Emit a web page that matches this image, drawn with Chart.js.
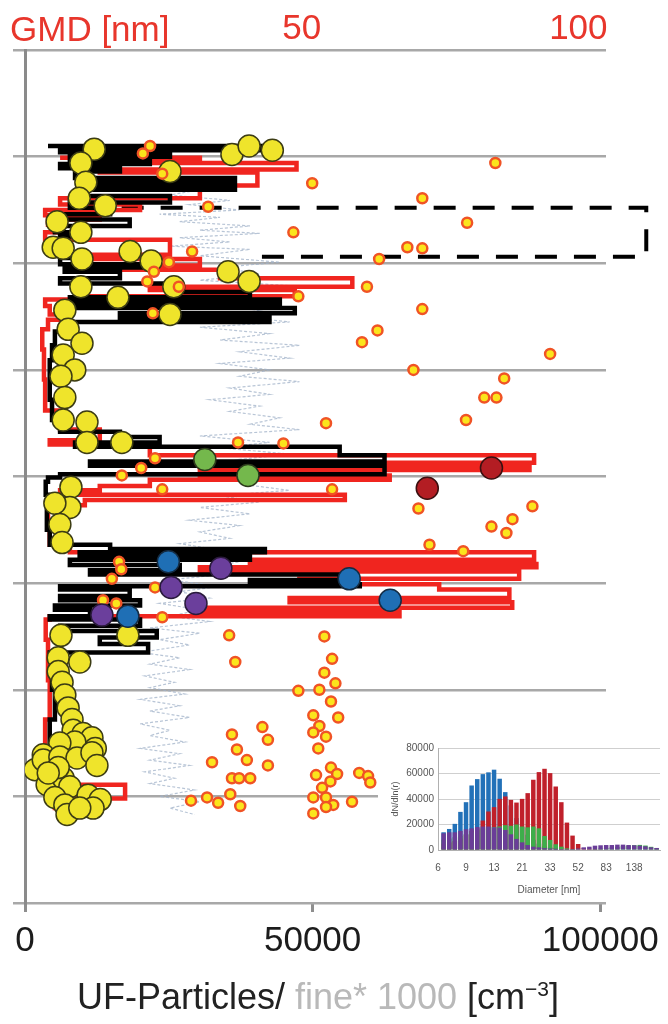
<!DOCTYPE html>
<html>
<head>
<meta charset="utf-8">
<script src="https://cdn.jsdelivr.net/npm/chart.js@4.4.1/dist/chart.umd.min.js"></script>
<style>
  body { margin: 0; background: #fff; }
  #wrap { position: relative; width: 668px; height: 1024px; overflow: hidden; font-family: "Liberation Sans", Arial, sans-serif; }
  #main { position: absolute; left: 0; top: 0; }
  #inset { position: absolute; left: 378px; top: 738px; }
  .gmd { position: absolute; left: 10px; top: 9px; font-size: 35px; color: #e8362c; }
  .xtitle { position: absolute; left: 0; width: 636px; top: 976px; text-align: center; font-size: 36px; color: #222; }
  .xtitle .fine { color: #b9b9b9; }
  .xtitle sup { font-size: 21px; }
</style>
</head>
<body>
<div id="wrap">
  <canvas id="main" width="668" height="1024"></canvas>
  <canvas id="inset" width="290" height="160"></canvas>
  <div class="gmd">GMD [nm]</div>
  <div class="xtitle">UF-Particles/ <span class="fine">fine* 1000</span> [cm<sup>−3</sup>]</div>
</div>
<script>
// tick labels
const ufTicks = [0, 50000, 100000];
const gmdTicks = [50, 100];
const profileTicks = [0, 1, 2, 3, 4, 5, 6, 7, 8];

// UF particle profiles [cm-3, profile]
const ufBlack = [
  [4000, 7.10], [28600, 7.10], [44300, 7.06], [6100, 7.04], [25200, 7.00], [7800, 6.97], [21700, 6.93],
  [6100, 6.89], [16500, 6.86], [8700, 6.80], [36500, 6.76], [11300, 6.73], [36500, 6.69], [9500, 6.63],
  [25200, 6.57], [7800, 6.52], [14800, 6.46], [6100, 6.41], [18200, 6.35], [5200, 6.29], [9500, 6.25],
  [6100, 6.18], [5200, 6.11], [7800, 6.05], [6100, 5.99], [21700, 5.96], [6900, 5.92], [16500, 5.86],
  [6100, 5.81], [26900, 5.73], [39100, 5.68], [7800, 5.66], [44300, 5.62], [6100, 5.58], [46900, 5.53],
  [16500, 5.49], [42500, 5.45], [7800, 5.41], [6100, 5.36], [5200, 5.23], [4700, 5.09], [4300, 4.91],
  [4300, 4.72], [4700, 4.53], [6100, 4.42], [16500, 4.37], [23400, 4.32], [8700, 4.28], [54700, 4.20],
  [62500, 4.14], [11300, 4.10], [62500, 4.02], [6100, 3.99], [4000, 3.95], [3600, 3.83], [4000, 3.68],
  [3800, 3.50], [4300, 3.36], [14800, 3.32], [41700, 3.29], [9500, 3.26], [39100, 3.22], [7800, 3.17],
  [26900, 3.12], [11300, 3.08], [54700, 3.03], [39100, 2.99], [58200, 2.97], [6100, 2.94], [18200, 2.88],
  [6100, 2.84], [20000, 2.79], [5200, 2.75], [11300, 2.69], [4300, 2.66], [20000, 2.60], [6100, 2.55],
  [22900, 2.49], [13000, 2.43], [21400, 2.35], [4300, 2.32], [5200, 2.23], [4700, 2.00], [5200, 1.72],
  [4300, 1.44], [3800, 1.15], [5200, 0.97], [6100, 0.87]
];
const ufRed = [
  [6100, 6.99], [30400, 6.97], [9500, 6.94], [47200, 6.88], [13000, 6.85], [40400, 6.73], [14800, 6.69],
  [30400, 6.61], [6100, 6.55], [20000, 6.50], [3500, 6.45], [13000, 6.41], [4000, 6.36], [6100, 6.29],
  [3500, 6.22], [25200, 6.08], [11300, 6.04], [30400, 5.98], [14800, 5.94], [33900, 5.86], [56900, 5.78],
  [21700, 5.75], [46900, 5.69], [9500, 5.66], [3500, 5.60], [4300, 5.52], [7800, 5.47], [4000, 5.38],
  [3000, 5.19], [3300, 4.91], [3500, 4.62], [6100, 4.44], [13000, 4.34], [4300, 4.30], [21700, 4.20],
  [88500, 4.13], [47700, 4.09], [87700, 4.06], [30400, 4.01], [63400, 3.97], [21700, 3.91], [13000, 3.87],
  [6100, 3.83], [55600, 3.78], [10400, 3.73], [4300, 3.68], [4000, 3.50], [4300, 3.36], [7800, 3.29],
  [88500, 3.22], [39100, 3.18], [88900, 3.15], [30400, 3.11], [85900, 3.04], [47700, 2.99], [72000, 2.94],
  [84200, 2.86], [46000, 2.82], [84700, 2.77], [30400, 2.73], [65100, 2.69], [4300, 2.66], [3600, 2.47],
  [4000, 2.09], [4300, 1.72], [3500, 1.34], [4300, 1.11], [17400, 0.98], [4300, 0.95], [5200, 0.87]
];
// fine particles * 1000
const fineGrey = [
  [21700, 6.73], [30400, 6.69], [25200, 6.64], [35600, 6.59], [28600, 6.55], [37300, 6.50], [23400, 6.46],
  [33900, 6.43], [26900, 6.39], [39100, 6.35], [30400, 6.31], [40800, 6.28], [26900, 6.24], [35600, 6.20],
  [25200, 6.16], [39100, 6.13], [30400, 6.07], [44300, 6.01], [33900, 5.96], [40800, 5.90], [30400, 5.84],
  [46000, 5.79], [35600, 5.73], [42500, 5.68], [32100, 5.62], [40800, 5.56], [35600, 5.51], [46000, 5.45],
  [30400, 5.40], [42500, 5.34], [33900, 5.28], [47700, 5.23], [37300, 5.17], [46000, 5.11], [33900, 5.06],
  [42500, 5.00], [37300, 4.94], [47700, 4.89], [35600, 4.83], [42500, 4.77], [32100, 4.72], [40800, 4.66],
  [35600, 4.61], [44300, 4.55], [39100, 4.49], [47700, 4.44], [30400, 4.38], [42500, 4.32], [33900, 4.27],
  [46000, 4.21], [37300, 4.16], [47700, 4.10], [35600, 4.04], [44300, 3.99], [37300, 3.93], [46000, 3.87],
  [33900, 3.82], [40800, 3.76], [30400, 3.71], [39100, 3.65], [28600, 3.59], [37300, 3.54], [30400, 3.48],
  [35600, 3.42], [26900, 3.37], [33900, 3.31], [28600, 3.26], [37300, 3.20], [30400, 3.14], [35600, 3.09],
  [25200, 3.03], [33900, 2.97], [26900, 2.92], [32100, 2.86], [23400, 2.81], [30400, 2.75], [25200, 2.69],
  [32100, 2.64], [21700, 2.58], [30400, 2.53], [23400, 2.47], [28600, 2.42], [20000, 2.35], [26900, 2.30],
  [21700, 2.24], [28600, 2.19], [20800, 2.13], [26000, 2.07], [21700, 2.02], [27800, 1.96], [20000, 1.91],
  [26900, 1.85], [21700, 1.80], [28600, 1.74], [20000, 1.68], [25200, 1.62], [21700, 1.57], [27800, 1.51],
  [20000, 1.45], [26900, 1.40], [21700, 1.34], [28600, 1.29], [20800, 1.23], [26000, 1.17], [21700, 1.12],
  [29500, 1.06], [23400, 1.00], [30400, 0.95], [25200, 0.89], [29500, 0.83]
];
// marked layer (dashed box)
const boxOutline = [[16800, 6.52], [108000, 6.52], [108000, 6.06], [39100, 6.06]];

// GMD [nm, profile]
const gmdLarge = [
  [12.5, 7.07], [10.1, 6.94], [11.0, 6.76], [9.8, 6.61], [14.5, 6.54], [5.8, 6.39], [10.1, 6.29], [5.1, 6.15],
  [6.9, 6.14], [10.3, 6.04], [19.0, 6.11], [22.8, 6.02], [10.1, 5.78], [16.8, 5.68], [26.2, 6.86], [37.4, 7.02],
  [40.5, 7.10], [44.7, 7.06], [36.7, 5.92], [40.5, 5.83], [26.9, 5.78], [26.2, 5.52], [7.2, 5.56], [7.8, 5.38],
  [10.3, 5.25], [6.9, 5.14], [9.0, 5.00], [6.5, 4.94], [7.2, 4.74], [6.9, 4.53], [11.2, 4.51], [11.2, 4.32],
  [17.5, 4.32], [8.3, 3.90], [8.1, 3.71], [5.4, 3.75], [6.3, 3.55], [6.7, 3.38], [6.5, 2.51], [18.6, 2.51],
  [6.0, 2.30], [9.9, 2.26], [6.0, 2.17], [6.7, 2.07], [7.2, 1.95], [7.8, 1.83], [8.5, 1.72], [8.7, 1.62],
  [10.5, 1.59], [12.1, 1.55], [12.7, 1.45], [9.0, 1.51], [6.3, 1.50], [3.3, 1.39], [1.8, 1.25], [3.3, 1.34],
  [6.3, 1.37], [9.4, 1.36], [12.1, 1.41], [13.0, 1.29], [4.0, 1.11], [6.9, 1.17], [8.1, 1.09], [5.4, 0.99],
  [7.2, 0.92], [7.6, 0.83], [11.4, 1.01], [13.6, 0.97], [12.3, 0.89], [9.9, 0.89], [6.0, 1.27], [4.2, 1.22]
];
const gmdSmall = [
  [22.6, 7.10], [21.3, 7.03], [24.8, 6.84], [33.1, 6.53], [30.2, 6.11], [26.0, 6.01], [23.3, 5.92], [22.1, 5.83],
  [27.8, 5.78], [23.1, 5.53], [51.9, 6.75], [48.5, 6.29], [49.4, 5.69], [85.0, 6.94], [71.8, 6.61], [79.9, 6.38],
  [69.1, 6.15], [71.8, 6.14], [64.0, 6.04], [61.8, 5.78], [71.8, 5.57], [63.7, 5.37], [60.9, 5.26], [94.9, 5.15],
  [70.2, 5.00], [86.6, 4.92], [83.0, 4.74], [85.2, 4.74], [79.7, 4.53], [54.4, 4.50], [38.5, 4.32], [46.7, 4.31],
  [23.5, 4.17], [21.0, 4.08], [17.5, 4.01], [24.8, 3.88], [55.5, 3.88], [71.1, 3.70], [91.7, 3.72], [88.1, 3.60],
  [84.3, 3.53], [87.0, 3.47], [73.1, 3.36], [79.2, 3.30], [17.0, 3.20], [17.4, 3.13], [15.7, 3.04], [23.5, 2.96],
  [14.1, 2.84], [16.5, 2.81], [24.8, 2.68], [36.9, 2.51], [54.1, 2.50], [38.0, 2.26], [55.5, 2.29], [54.1, 2.16],
  [56.1, 2.06], [49.4, 1.99], [53.2, 2.00], [55.3, 1.89], [52.1, 1.76], [56.6, 1.74], [42.9, 1.65], [53.2, 1.66],
  [37.4, 1.58], [43.9, 1.53], [52.1, 1.60], [54.4, 1.56], [38.3, 1.44], [53.0, 1.45], [33.8, 1.32], [40.1, 1.34],
  [43.9, 1.29], [55.3, 1.27], [56.4, 1.21], [60.4, 1.22], [62.0, 1.19], [62.4, 1.13], [37.4, 1.17], [38.7, 1.17],
  [40.7, 1.17], [52.6, 1.20], [55.2, 1.14], [53.7, 1.08], [30.0, 0.96], [32.9, 0.99], [34.9, 0.94], [37.1, 1.02],
  [38.9, 0.91], [52.1, 0.99], [54.4, 0.99], [55.7, 0.92], [54.4, 0.90], [59.1, 0.95], [52.1, 0.84]
];
const gmdGreen = [[32.5, 4.16], [40.3, 4.01]];
const gmdDarkRed = [[84.3, 4.08], [72.7, 3.89]];
const gmdBlue = [[25.9, 3.20], [18.6, 2.69], [58.6, 3.04], [66.0, 2.84]];
const gmdPurple = [[35.4, 3.14], [26.4, 2.96], [30.9, 2.81], [13.9, 2.70]];

// inset size distributions, dN/dln(r)
const diameterLabels = ["6", "9", "13", "21", "33", "52", "83", "138"];
const sizeBlue = [13900, 16500, 20500, 29900, 37500, 50600, 55600, 59500, 60900, 63000, 55900, 45400, 35000,
  25000, 18000, 12000, 8000, 5000, 3000, 2000, 1500, 1000, 800, 600, 500, 400, 400, 300, 300, 300, 300, 300,
  300, 300, 300, 200, 200, 200, 100];
const sizeRed = [5000, 6000, 7000, 9000, 12000, 15000, 17000, 23100, 30200, 33600, 40100, 42000, 39300, 37200,
  40100, 44600, 55100, 61100, 63700, 60300, 49800, 37500, 21500, 11300, 4700, 1500, 1000, 800, 600, 500, 500,
  500, 400, 400, 300, 300, 300, 200, 200];
const sizeGreen = [8000, 9000, 10000, 11000, 12500, 14000, 15500, 17000, 17500, 18000, 18500, 19500, 19000,
  20000, 18400, 17800, 18400, 17000, 11000, 7900, 4500, 2600, 1300, 800, 600, 500, 600, 800, 1200, 1600, 2000,
  2500, 3000, 3400, 3800, 4000, 3500, 2500, 1500];
const sizePurple = [13100, 13900, 13900, 15000, 16300, 17000, 18100, 18400, 18400, 17800, 17600, 15700, 12300,
  8700, 6000, 3900, 2600, 2100, 1500, 1200, 1000, 800, 700, 800, 1200, 2100, 2600, 3400, 3700, 3900, 3900, 4200,
  4200, 3900, 3700, 3400, 2900, 2100, 1600];

const FONT = "'Liberation Sans', Arial, sans-serif";
const toXY = (arr) => arr.map(([x, y]) => ({ x, y }));

function lineSet(data, color, width, order, extra) {
  return Object.assign({
    data: toXY(data),
    xAxisID: "x",
    showLine: true,
    borderColor: color,
    borderWidth: width,
    pointRadius: 0,
    tension: 0,
    order,
  }, extra || {});
}

function dotSet(data, fill, border, radius, bw, order) {
  return {
    data: toXY(data),
    xAxisID: "x2",
    backgroundColor: fill,
    borderColor: border,
    borderWidth: bw,
    pointRadius: radius,
    pointHoverRadius: radius,
    order,
  };
}

new Chart(document.getElementById("main").getContext("2d"), {
  type: "scatter",
  data: {
    datasets: [
      dotSet(gmdGreen, "#74b84c", "#2c3a1c", 11, 1.5, 0),
      dotSet(gmdDarkRed, "#b31d23", "#3a1010", 11, 1.5, 0),
      dotSet(gmdBlue, "#1f6fb5", "#142c44", 11, 1.5, 0),
      dotSet(gmdPurple, "#6b3f9c", "#2a1a3c", 11, 1.5, 0),
      dotSet(gmdSmall, "#fbe51c", "#f05325", 5, 2.5, 1),
      dotSet(gmdLarge, "#efe42b", "#3c3c14", 11, 1.5, 2),
      lineSet(ufBlack, "#000000", 4.5, 3, { stepped: true }),
      lineSet(ufRed, "#f0251f", 4.5, 4, { stepped: true }),
      lineSet(boxOutline, "#000000", 4, 5, { borderDash: [22, 17], clip: false }),
      lineSet(fineGrey, "rgba(160,178,200,0.75)", 1.2, 6, { borderDash: [3, 2] }),
    ],
  },
  options: {
    responsive: false,
    animation: false,
    events: [],
    layout: { padding: { left: 0, right: 62, top: 0, bottom: 0 } },
    plugins: { legend: { display: false }, tooltip: { enabled: false } },
    scales: {
      x: {
        type: "linear",
        position: "bottom",
        min: 0,
        max: 101000,
        afterBuildTicks: (s) => { s.ticks = ufTicks.map((v) => ({ value: v })); },
        afterFit: (s) => { s.height = 121; },
        ticks: { font: { family: FONT, size: 35 }, color: "#1c1c1c", padding: 8, maxRotation: 0, callback: (v) => String(v) },
        grid: { drawOnChartArea: false, tickLength: 9, color: "#8e8e8e", lineWidth: 3 },
        border: { display: false },
      },
      x2: {
        type: "linear",
        position: "top",
        min: 0,
        max: 105,
        afterBuildTicks: (s) => { s.ticks = gmdTicks.map((v) => ({ value: v })); },
        afterFit: (s) => { s.height = 50; },
        ticks: { font: { family: FONT, size: 35 }, color: "#e8362c", padding: 0, maxRotation: 0 },
        grid: { display: false, drawTicks: false },
        border: { display: false },
      },
      y: {
        type: "linear",
        min: 0,
        max: 8,
        afterBuildTicks: (s) => { s.ticks = profileTicks.map((v) => ({ value: v })); },
        afterFit: (s) => { s.width = 25; },
        ticks: { display: false },
        grid: { color: "#a8a8a8", lineWidth: 2.5, tickLength: 12 },
        border: { color: "#8a8a8a", width: 3 },
      },
    },
  },
});

// inset: size distributions
const whiteBg = {
  id: "whiteBg",
  beforeDraw(chart) {
    const c = chart.ctx;
    c.save();
    c.fillStyle = "#fff";
    c.fillRect(0, 0, chart.width, chart.height);
    c.restore();
  },
};

function barSet(values, color, order) {
  return {
    data: values.map((v, i) => ({ x: i + 1, y: v })),
    backgroundColor: color,
    grouped: false,
    barPercentage: 0.8,
    categoryPercentage: 1,
    order,
  };
}

new Chart(document.getElementById("inset").getContext("2d"), {
  type: "bar",
  data: {
    datasets: [
      barSet(sizePurple, "#6a3d98", 0),
      barSet(sizeGreen, "#3dae4a", 1),
      barSet(sizeRed, "#c0202b", 2),
      barSet(sizeBlue, "#2271b8", 3),
    ],
  },
  options: {
    responsive: false,
    animation: false,
    events: [],
    layout: { padding: { left: 0, right: 8, top: 10, bottom: 0 } },
    plugins: { legend: { display: false }, tooltip: { enabled: false } },
    scales: {
      x: {
        type: "linear",
        min: 0,
        max: 39.6,
        offset: false,
        afterBuildTicks: (s) => { s.ticks = diameterLabels.map((d, i) => ({ value: i * 5 })); },
        afterFit: (s) => { s.height = 48; },
        ticks: { font: { family: FONT, size: 10 }, color: "#555", padding: 4, maxRotation: 0,
          callback: (v) => diameterLabels[v / 5] },
        grid: { display: false, offset: false },
        border: { color: "#b0b0b0" },
        title: { display: true, text: "Diameter [nm]", font: { family: FONT, size: 10 }, color: "#555", padding: 2 },
      },
      y: {
        min: 0,
        max: 80000,
        ticks: { stepSize: 20000, font: { family: FONT, size: 10 }, color: "#555", padding: 4, callback: (v) => String(v) },
        afterFit: (s) => { s.width = 60; },
        grid: { color: "#cfcfcf", drawTicks: false },
        border: { color: "#b0b0b0" },
        title: { display: true, text: "dN/dln(r)", font: { family: FONT, size: 9 }, color: "#555", padding: { top: 12, bottom: 0 } },
      },
    },
  },
  plugins: [whiteBg],
});
</script>
</body>
</html>
